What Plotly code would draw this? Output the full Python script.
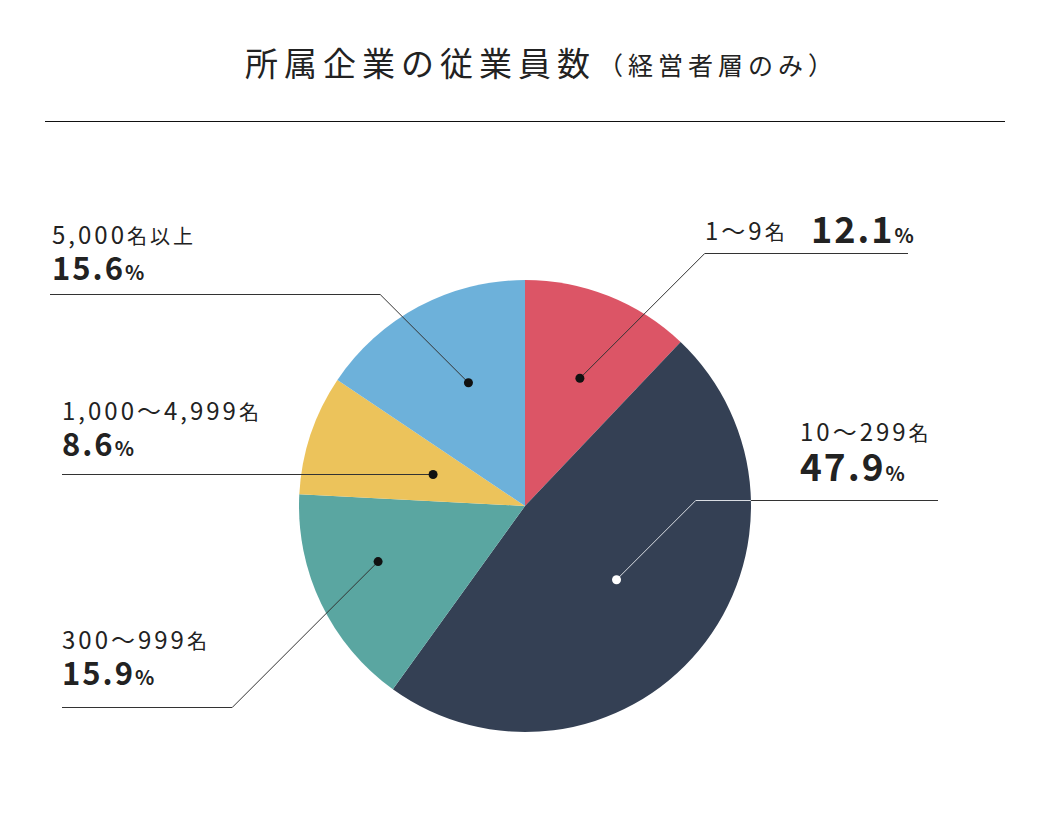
import math
import re
import plotly.graph_objects as go

# ---- data ----
categories = ["1～9名", "10～299名", "300～999名", "1,000～4,999名", "5,000名以上"]
values = [12.1, 47.9, 15.9, 8.6, 15.6]
colors = ["#DC5566", "#344054", "#5AA6A1", "#ECC35B", "#6DB1DA"]
title_main = "所属企業の従業員数"
title_sub = "（経営者層のみ）"

W, H = 1050, 816
FONT = "Noto Sans CJK JP"

# pie box in pixels (layout)
PX0, PX1, PY0, PY1 = 298, 752, 280, 732
cx, cy = (PX0 + PX1) / 2, (PY0 + PY1) / 2
R = min(PX1 - PX0, PY1 - PY0) / 2

def px(x):
    return x / W

def py(y):
    return 1 - y / H

# per-slice label layout (styles/positions)
dot_frac = [0.615, 0.52, 0.695, 0.43, 0.60]
dot_angle_off = [1.5, -0.8, 4.9, 0.5, 3.4]
line_y = [253.5, 500.5, 707.5, None, 294.5]
line_end_x = [908, 938, 62, 62, 50]
dot_fill = ["#111", "#ffffff", "#111", "#111", "#111"]

fig = go.Figure(go.Pie(
    labels=categories, values=values, sort=False, direction="clockwise",
    rotation=0, marker=dict(colors=colors, line=dict(width=0)),
    textinfo="none", hoverinfo="label+percent", showlegend=False,
    domain=dict(x=[px(PX0), px(PX1)], y=[py(PY1), py(PY0)]),
))

shapes = []
total = sum(values)
cum = 0
dots = []
for i, v in enumerate(values):
    mid = (cum + v / 2) / total * 2 * math.pi + math.radians(dot_angle_off[i])
    cum += v
    r = R * dot_frac[i]
    dx, dy = cx + r * math.sin(mid), cy - r * math.cos(mid)
    dots.append((dx, dy))
    ly = line_y[i] if line_y[i] is not None else round(dy) + 0.5
    ex = line_end_x[i]
    d = abs(dy - ly)
    sgn = 1 if ex > dx else -1
    elx = dx + sgn * d
    if dot_fill[i] == "#ffffff":
        xedge = cx + sgn * math.sqrt(R * R - (ly - cy) ** 2)
        parts = [((dx, dy), (elx, ly), "#d9dde3"), ((elx, ly), (xedge, ly), "#d9dde3"),
                 ((xedge, ly), (ex, ly), "#333333")]
    else:
        parts = [((dx, dy), (elx, ly), "#333333"), ((elx, ly), (ex, ly), "#333333")]
    for a, b, col in parts:
        shapes.append(dict(type="line", xref="paper", yref="paper",
                           x0=px(a[0]), y0=py(a[1]), x1=px(b[0]), y1=py(b[1]),
                           line=dict(color=col, width=1)))

for i, (dx, dy) in enumerate(dots):
    rr = 4.5
    shapes.append(dict(type="circle", xref="paper", yref="paper",
                       x0=px(dx - rr), x1=px(dx + rr), y0=py(dy + rr), y1=py(dy - rr),
                       fillcolor=dot_fill[i], line=dict(width=0)))

# title rule
shapes.append(dict(type="line", xref="paper", yref="paper", x0=px(45), x1=px(1005),
                   y0=py(121.5), y1=py(121.5), line=dict(color="#111", width=1)))

def cat_html(s):
    return ("<span style='font-size:24px;letter-spacing:3px'>"
            + re.sub(r"([名以上]+)", r"<span style='font-size:20px'>\1</span>", s)
            + "</span>")

def pct_html(v, size, psize):
    return (f"<span style='font-size:{size}px;letter-spacing:2px'><b>{v}</b></span>"
            f"<span style='font-size:{psize}px'><b>%</b></span>")

annotations = []
def ann(x, y, text, size=20, color="#222"):
    annotations.append(dict(x=px(x), y=py(y), xref="paper", yref="paper", text=text,
                            showarrow=False, xanchor="left", yanchor="middle", align="left",
                            font=dict(family=FONT, size=size, color=color)))

# 1～9名: single row (category then percentage)
ann(703, 229, cat_html(categories[0]), size=24)
ann(809, 227, pct_html(values[0], 36, 20), size=36)

# two-line labels: (x, y-center of block, pct size, line size)
lab2 = {
    1: (798, 452, 37, 31),
    2: (60, 657, 31, 28),
    3: (60, 428, 31, 28),
    4: (50, 252, 31, 28),
}
for i, (x, y, s, ls) in lab2.items():
    ann(x, y, cat_html(categories[i]) + "<br>" + pct_html(values[i], s, 20), size=ls)

ann(243, 62, f"<span style='letter-spacing:6px'>{title_main}</span>", size=33)
ann(596, 64, f"<span style='letter-spacing:5px'>{title_sub}</span>", size=25)

fig.update_layout(width=W, height=H, margin=dict(l=0, r=0, t=0, b=0),
                  paper_bgcolor="white", plot_bgcolor="white",
                  shapes=shapes, annotations=annotations,
                  font=dict(family=FONT))
fig.write_html("out.html")
